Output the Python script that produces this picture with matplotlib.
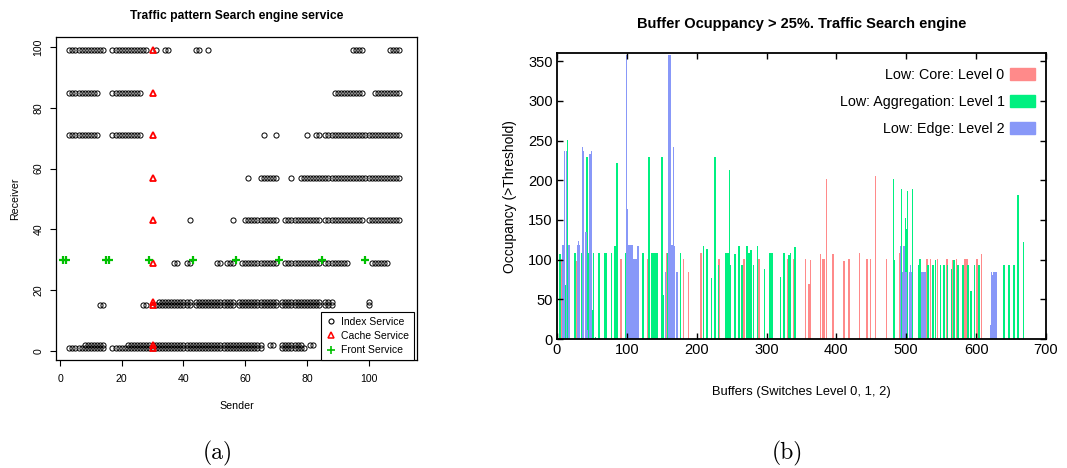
import numpy as np
import matplotlib
matplotlib.use('Agg')
from matplotlib import pyplot as plt
from matplotlib.patches import Patch
from matplotlib.lines import Line2D

plt.rcParams['font.family'] = ['Liberation Sans', 'DejaVu Sans']

# ---- (a) traffic pattern: receiver rows with runs of senders (start, end inclusive)
index_rows = [
    (99, [(3, 14), (17, 28), (31, 31), (34, 35), (44, 45), (48, 48), (95, 98), (107, 110)]),
    (85, [(3, 12), (17, 26), (89, 98), (102, 110)]),
    (71, [(3, 12), (17, 26), (66, 66), (70, 70), (80, 80), (83, 84), (86, 110)]),
    (57, [(61, 61), (65, 70), (75, 75), (78, 110)]),
    (43, [(42, 42), (56, 56), (60, 70), (73, 84), (86, 98), (100, 110)]),
    (29, [(37, 38), (41, 42), (51, 52), (54, 56), (59, 70), (73, 84), (86, 93), (101, 106)]),
    (16, [(32, 42), (44, 56), (58, 70), (72, 84), (86, 88), (100, 100)]),
    (15, [(13, 14), (27, 28), (31, 42), (44, 56), (58, 70), (72, 84), (86, 88), (100, 100)]),
    (2, [(8, 14), (22, 65), (68, 69), (72, 78), (81, 82)]),
    (1, [(3, 14), (17, 65), (72, 79)]),
]
cache_x = [30] * 10
cache_y = [1, 2, 15, 16, 29, 43, 57, 71, 85, 99]
front_x = [1, 2, 15, 16, 29, 43, 57, 71, 85, 99]
front_y = [30] * 10

# ---- (b) buffer occupancy bars, one list per switch level
core_x = [7, 27, 92, 102, 130, 157, 181, 188, 206, 232, 268, 289, 331, 339, 356, 361, 363,
          377, 380, 382, 386, 395, 411, 418, 433, 444, 449, 456, 472, 490, 530, 535, 545,
          558, 566, 572, 584, 587, 601, 608]
core_h = [101, 98, 101, 101, 101, 109, 101, 85, 108, 101, 101, 101, 101, 101, 101, 69, 99,
          107, 101, 101, 202, 107, 98, 101, 109, 101, 101, 206, 101, 109, 101, 101, 101,
          101, 99, 101, 101, 101, 101, 107]

aggr_x = [4, 12, 15, 26, 35, 43, 46, 51, 52, 55, 60, 69, 70, 78, 83, 85, 86, 98, 113, 123,
          132, 136, 139, 141, 143, 150, 152, 158, 177, 210, 215, 221, 226, 231, 242, 245,
          247, 248, 255, 260, 261, 265, 272, 275, 278, 281, 287, 297, 305, 308, 320, 325,
          332, 334, 341, 482, 483, 493, 499, 500, 502, 509, 518, 520, 531, 532, 538, 539,
          542, 549, 554, 559, 565, 568, 574, 581, 588, 593, 598, 604, 640, 647, 654, 660, 668]
aggr_h = [107, 68, 251, 108, 108, 229, 108, 37, 108, 3, 108, 108, 108, 108, 117, 108, 222,
          108, 70, 108, 230, 108, 108, 108, 108, 230, 56, 108, 108, 117, 114, 77, 230, 93,
          108, 108, 213, 93, 107, 117, 117, 93, 117, 108, 112, 93, 117, 88, 108, 108, 78,
          108, 106, 108, 116, 202, 99, 189, 153, 139, 187, 189, 93, 101, 93, 93, 93, 93, 99,
          93, 93, 93, 88, 99, 93, 93, 93, 60, 93, 93, 93, 93, 93, 182, 122]

edge_x = [8, 9, 10, 11, 13, 14, 16, 17, 18,
          29, 30, 31, 32, 33, 36, 37, 38, 41, 42, 44, 47, 48, 49, 50,
          100, 101, 102, 103, 104, 105, 106, 107, 108, 109, 110, 111, 112, 113, 114, 115, 116, 117,
          155, 159, 160, 161, 162, 163, 164, 165, 166, 167, 168, 169, 171, 172, 173,
          491, 492, 494, 495, 496, 497, 498, 499, 500, 504, 505, 506, 507,
          521, 522, 523, 524, 525, 526, 527, 528,
          620, 621, 622, 623, 624, 625, 626, 627, 628, 629]
edge_h = [118, 118, 237, 237, 237, 237, 118, 118, 118,
          118, 237, 123, 118, 118, 242, 237, 237, 135, 135, 11, 233, 233, 237, 233,
          358, 164, 118, 358, 118, 118, 118, 118, 118, 101, 97, 101, 101, 101, 101, 117, 117, 117,
          85, 237, 358, 358, 240, 358, 118, 118, 237, 242, 117, 85, 85, 85, 85,
          117, 117, 85, 85, 117, 117, 85, 85, 85, 49, 85, 93, 85,
          50, 85, 85, 88, 85, 85, 85, 85,
          85, 18, 85, 81, 85, 85, 85, 85, 85, 85]

fig = plt.figure(figsize=(10.67, 4.68), dpi=100)

# ---------------- left panel
ax1 = fig.add_axes([0.0525, 0.2308, 0.3383, 0.6908])
sx, sy = [], []
for y, runs in index_rows:
    for a, b in runs:
        for x in range(a, b + 1):
            sx.append(x)
            sy.append(y)
ax1.plot(sx, sy, linestyle='none', marker='o', ms=3.7, mfc='none', mec='black', mew=0.7)
ax1.plot(cache_x, cache_y, linestyle='none', marker='^', ms=4.6, mfc='none', mec='red', mew=1.3)
ax1.plot(front_x, front_y, linestyle='none', marker='+', ms=6, mec='#00c000', mew=1.6)
ax1.set_xlim(-1.3, 115.7)
ax1.set_ylim(-3, 103.4)
ax1.set_xticks(np.arange(0, 101, 20))
ax1.set_yticks(np.arange(0, 101, 20))
ax1.tick_params(labelsize=7.6, length=4, width=0.8, direction='out', pad=6)
ax1.tick_params(axis='y', labelrotation=90, pad=5)
for lbl in ax1.get_yticklabels():
    lbl.set_va('center')
for s in ax1.spines.values():
    s.set_linewidth(0.9)
ax1.set_xlabel('Sender', fontsize=7.7, labelpad=12)
ax1.set_ylabel('Receiver', fontsize=7.7, labelpad=10)
ax1.set_title('Traffic pattern Search engine service', fontsize=8.7, fontweight='bold', pad=13)
handles1 = [
    Line2D([], [], linestyle='none', marker='o', ms=3.6, mfc='none', mec='black', mew=0.8),
    Line2D([], [], linestyle='none', marker='^', ms=4.6, mfc='none', mec='red', mew=1.1),
    Line2D([], [], linestyle='none', marker='+', ms=6, mec='#00c000', mew=1.2),
]
leg1 = ax1.legend(handles1, ['Index Service', 'Cache Service', 'Front Service'],
                  loc='lower right', bbox_to_anchor=(0.992, 0.0), borderaxespad=0,
                  fontsize=7.5, fancybox=False, edgecolor='black', framealpha=1,
                  handlelength=1.0, handletextpad=0.5, labelspacing=0.4, borderpad=0.45)
leg1.get_frame().set_linewidth(0.8)
fig.text(0.204, 0.018, '(a)', fontsize=17, fontfamily='cmr10', ha='center')

# ---------------- right panel
c_core, c_aggr, c_edge = '#ff8a8a', '#00f080', '#8898f8'
ax2 = fig.add_axes([0.522, 0.2756, 0.4583, 0.6104])
ax2.bar(core_x, core_h, width=2.2, color=c_core, linewidth=0)
ax2.bar(aggr_x, aggr_h, width=2.2, color=c_aggr, linewidth=0)
ax2.bar(edge_x, edge_h, width=1.1, color=c_edge, linewidth=0)
ax2.set_xlim(0, 700)
ax2.set_ylim(0, 360)
ax2.set_xticks(np.arange(0, 701, 100))
ax2.set_yticks(np.arange(0, 351, 50))
ax2.tick_params(labelsize=10.5, direction='in', length=4, width=1, top=True, right=True, pad=3)
for s in ax2.spines.values():
    s.set_linewidth(1.3)
ax2.set_xlabel('Buffers (Switches Level 0, 1, 2)', fontsize=9.3, labelpad=21)
ax2.set_ylabel('Occupancy (>Threshold)', fontsize=10, labelpad=8)
ax2.set_title('Buffer Ocuppancy > 25%. Traffic Search engine', fontsize=10.5,
              fontweight='bold', pad=18)
handles2 = [Patch(color=c_core), Patch(color=c_aggr), Patch(color=c_edge)]
ax2.legend(handles2, ['Low: Core: Level 0', 'Low: Aggregation: Level 1', 'Low: Edge: Level 2'],
           loc='upper right', bbox_to_anchor=(0.99, 0.97), frameon=False, fontsize=10.3,
           markerfirst=False, handlelength=1.8, handleheight=0.9, labelspacing=0.92,
           handletextpad=0.35, borderaxespad=0)
fig.text(0.738, 0.018, '(b)', fontsize=17, fontfamily='cmr10', ha='center')

fig.savefig('out.png', dpi=100)
